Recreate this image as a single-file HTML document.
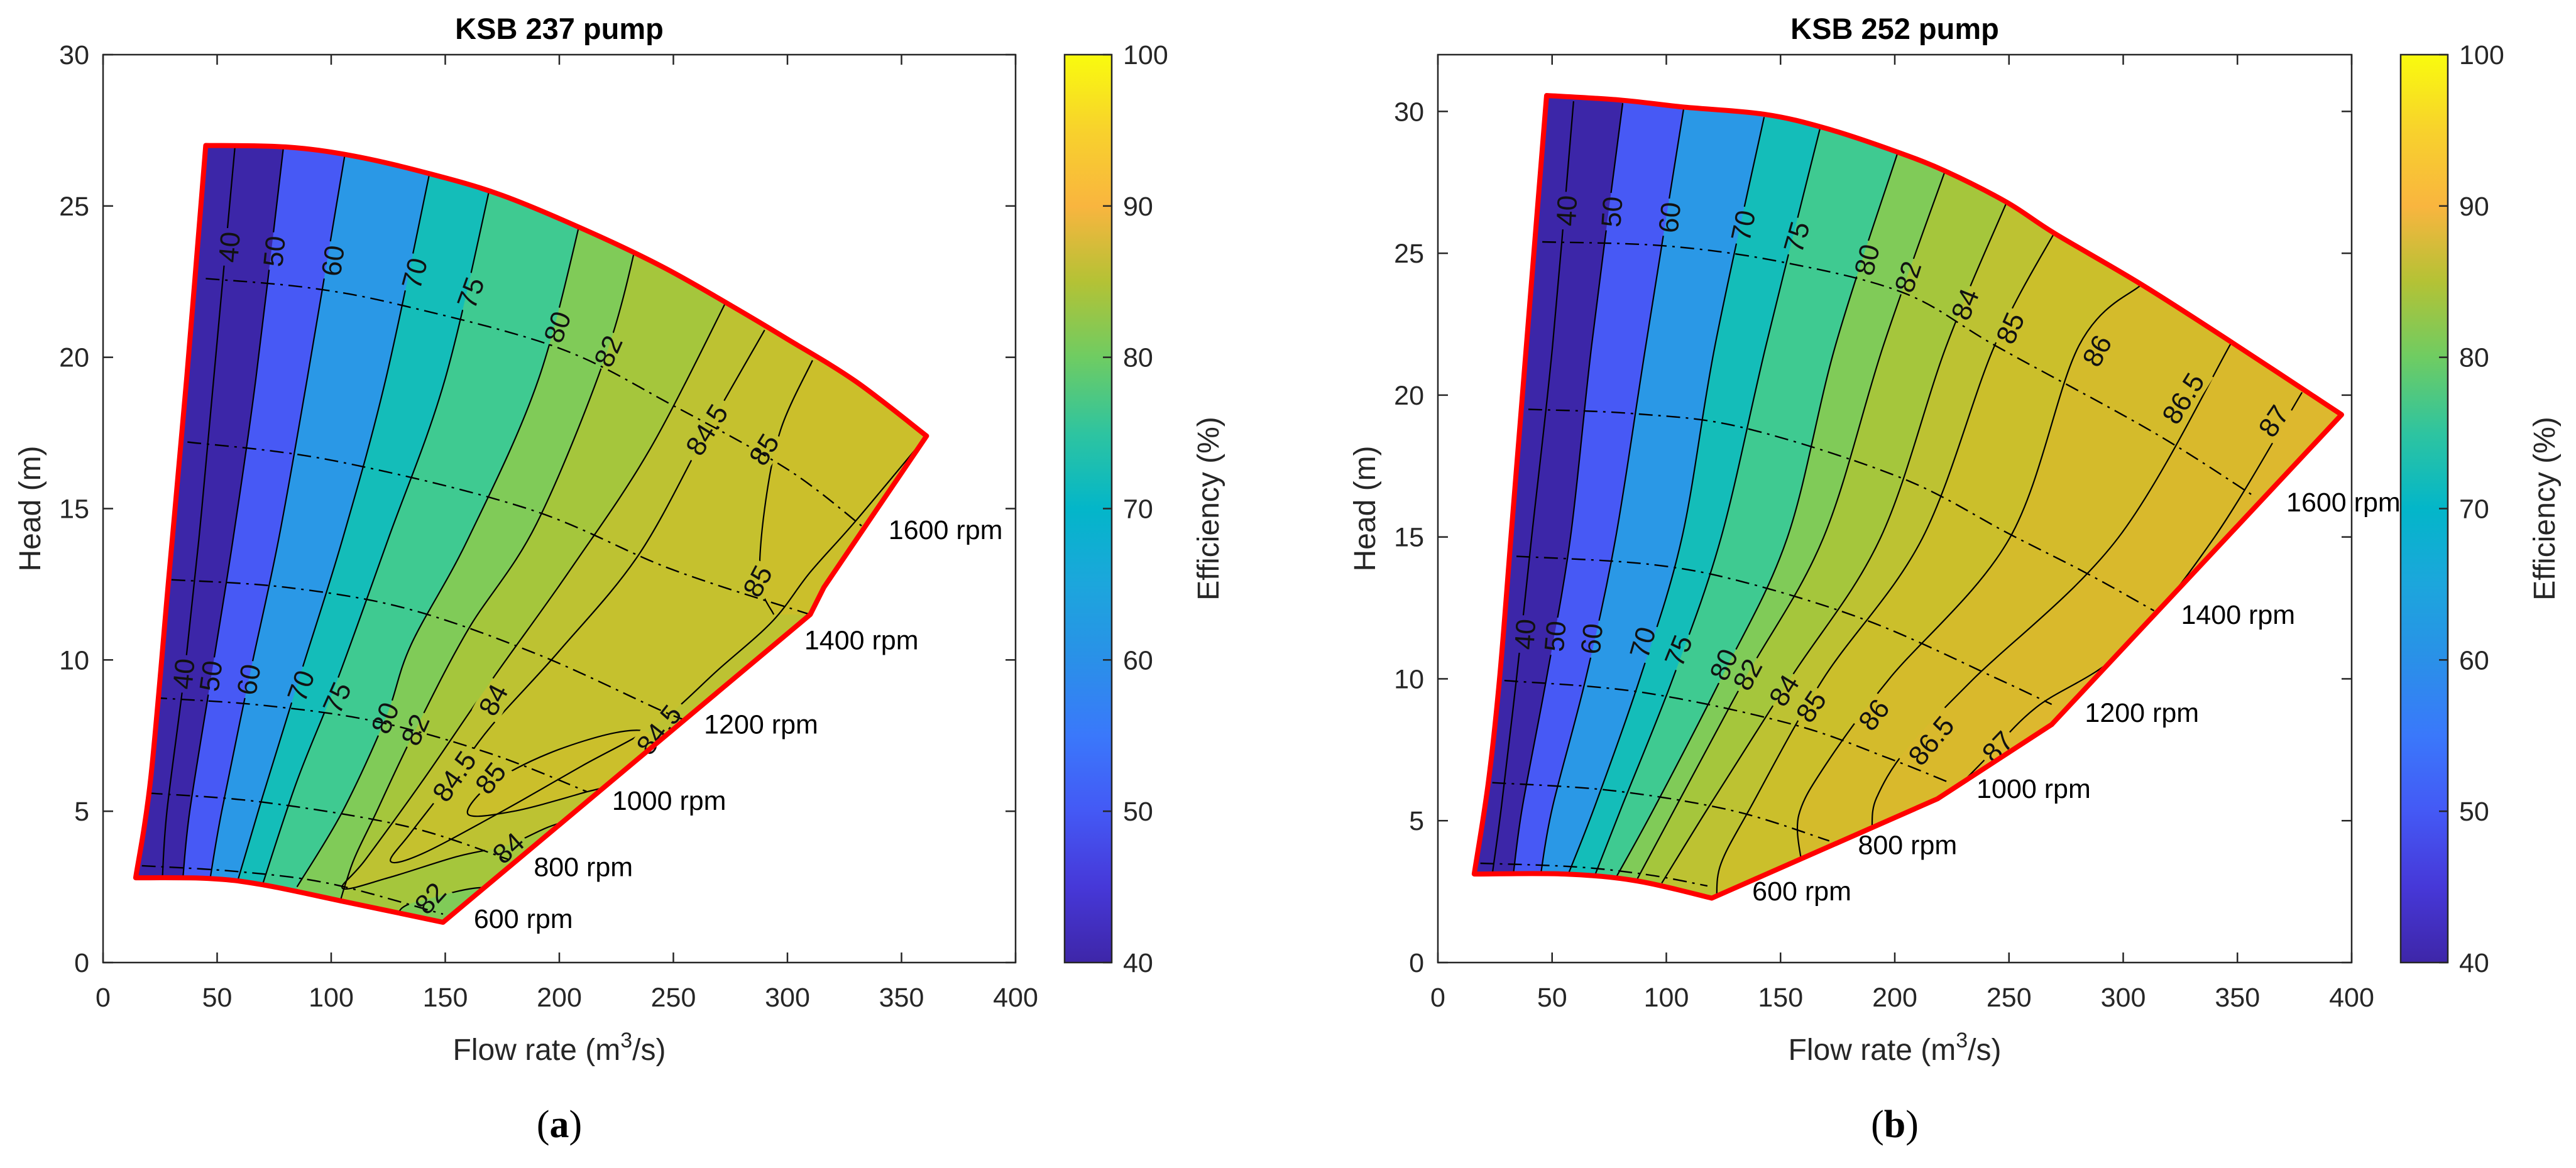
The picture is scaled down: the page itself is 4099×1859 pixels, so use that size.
<!DOCTYPE html>
<html><head><meta charset="utf-8"><title>KSB pump efficiency maps</title>
<style>html,body{margin:0;padding:0;background:#fff}svg{display:block}text{font-family:"Liberation Sans",Arial,sans-serif}</style>
</head><body>
<svg id="fig" xmlns="http://www.w3.org/2000/svg" width="4099" height="1859" viewBox="0 0 4099 1859">
<defs>
<linearGradient id="parula" x1="0" y1="1" x2="0" y2="0">
<stop offset="0" stop-color="#3e26a8"/><stop offset="0.083" stop-color="#4638d8"/><stop offset="0.167" stop-color="#4459f5"/><stop offset="0.25" stop-color="#3a78fb"/><stop offset="0.333" stop-color="#2a90e8"/><stop offset="0.417" stop-color="#1ca6dc"/><stop offset="0.5" stop-color="#03b6c9"/><stop offset="0.583" stop-color="#2ec4a0"/><stop offset="0.667" stop-color="#6fcc62"/><stop offset="0.75" stop-color="#b4c235"/><stop offset="0.833" stop-color="#f9b53f"/><stop offset="0.917" stop-color="#f8d22c"/><stop offset="1" stop-color="#f9fb0e"/>
</linearGradient>
</defs>
</svg>
<script>
// ---------- shared data ----------
const xTicks = [0,50,100,150,200,250,300,350,400];
const yTicks = [0,5,10,15,20,25,30];
const cbTicks = [40,50,60,70,80,90,100];
const bandLevels = [40,50,60,70,75,80,82,84,84.5,85,86,86.5,87];
const bandColors = ['#3c26a8','#4759f5','#2a98e6','#14bdb9','#3fca91','#80cb58','#a5c63c','#bdc232','#c5c12e','#cbbf2b','#d4bb2b','#d9b92c','#ddb82e'];

// ---------- KSB 237 (a) ----------
const topCurveA = [[45,27.0],[80,26.95],[110,26.65],[144,26.05],[175,25.35],[211.6,24.2],[245,23.0],[275.5,21.7],[300,20.6],[330,19.2],[361,17.4]];
const lowerEdgeA = [[316,12.4],[310,11.5],[149,1.33]];
const bottomCurveA = [[149,1.33],[106.6,2.0],[70,2.57],[46,2.78],[14.3,2.8]];
const leftEdgeA = [[14.3,2.8],[20.9,6.1],[28.8,12.7],[36.7,19.34],[45,27.0]];
const contourLevelsA = [40,50,60,70,75,80,82,84,84.5,85,85];
const contourTypesA = ['line','line','line','line','line','line','u','u','u','u','closed'];
const contourPtsA = [
 [[58,27.1],[48.5,19.3],[42,14],[35.4,9.4],[28,5],[26,2.8]],
 [[79,26.9],[67,19.3],[57,14],[47.3,9.4],[38,5],[35,2.8]],
 [[106,26.7],[89.5,19.3],[77,14],[64,9.4],[52,5],[47,2.8]],
 [[144,26.4],[124,19.3],[105,14],[86,9.4],[70,5.5],[59,2.7]],
 [[171,26.1],[150,19.3],[125,14],[103,9.4],[85,6],[70,2.6]],
 [[212,25.4],[191,19.3],[160,14],[135,10.5],[124,8.1],[105,5],[85,2.5]],
 [[236,24.5],[221,20.2],[190,14.5],[160,11],[137,7.7],[120,5.0],[108,3.0],[104,1.2],[126,1.0],[131,1.8],[145,2.15],[162,2.45],[178,2.5]],
 [[275.5,22.2],[240,17],[205,13],[171,9.4],[140,6.0],[115,3.4],[105,2.45],[125,2.8],[155,3.5],[178,3.9],[200,4.6],[230,5.0]],
 [[290,20.9],[265,17.6],[235,13.5],[200,10.3],[170,7.8],[154,6.15],[135,4.3],[126,3.35],[140,3.6],[175,5.0],[210,6.5],[243,7.9],[270,9.7],[293.7,11.3],[310,12.9],[330,14.6],[361,17.4]],
 [[311,19.9],[297,17.6],[290,15.0],[288,12.6],[294,11.5]],
 [[160,4.9],[170,5.9],[195,6.9],[225,7.6],[240,7.5],[235,6.2],[210,5.6],[180,5.0]]
];
const labelTextA = ['40','50','60','70','75','80','82','84.5','85','85','40','50','60','70','75','80','82','84','84.5','85','84','82','84.5'];
const labelPosA = [[55.4,23.64],[75.1,23.5],[100.8,23.19],[136.6,22.77],[161.2,22.13],[199.2,21.0],[221.5,20.2],[264.7,17.6],[289.8,16.95],[287,12.6],[35.4,9.54],[47.3,9.47],[63.9,9.35],[86.8,9.14],[102.6,8.75],[123.7,8.08],[136.9,7.69],[171.1,8.68],[154,6.15],[169.9,6.09],[177.7,3.78],[143.5,2.12],[243.7,7.69]];
const labelAngA = [-85,-84,-82,-75,-70,-70,-66,-58,-58,-62,-84,-82,-80,-70,-66,-68,-66,-62,-55,-52,-42,-48,-52];
const speedNames = ['1600 rpm','1400 rpm','1200 rpm','1000 rpm','800 rpm','600 rpm'];
const speedA = [
 [[45,22.6],[90,22.3],[132,21.7],[200,20.3],[250,18.4],[300,16.3],[333,14.4]],
 [[37,17.2],[100,16.6],[186,15.0],[249,13.0],[310,11.5]],
 [[30,12.65],[80,12.4],[133,11.7],[190,10.2],[244,8.35],[256,8.0]],
 [[22,8.75],[70,8.5],[120,7.96],[170,6.9],[212,5.65]],
 [[20,5.6],[70,5.3],[133,4.5],[178,3.4]],
 [[17,3.2],[60,3.0],[100,2.6],[149,1.6]]
];
const speedLabelA = [[344.3,14.3],[307.4,10.66],[263.4,7.88],[223.1,5.36],[188.8,3.17],[162.5,1.45]];

// ---------- KSB 252 (b) ----------
const topCurveB = [[47.6,30.56],[80,30.4],[106.7,30.16],[142.8,29.9],[170,29.4],[200,28.6],[222,27.9],[249,26.8],[270,25.7],[308,23.9],[347.7,21.85],[395.6,19.31]];
const lowerEdgeB = [[268.7,8.39],[218.7,5.77],[119.9,2.27]];
const bottomCurveB = [[119.9,2.27],[87,2.88],[55.4,3.12],[15.9,3.12]];
const leftEdgeB = [[15.9,3.12],[22,6.3],[27,10],[32,15],[37,20],[42,25],[47.6,30.56]];
const contourLevelsB = [40,50,60,70,75,80,82,84,85,86,86.5,87];
const contourTypesB = ['line','line','line','line','line','line','line','line','line','line','line','line'];
const contourPtsB = [
 [[59.4,30.36],[50.2,21.74],[41,14.96],[34.4,10],[27.8,5.49],[23.8,3.1]],
 [[80.9,30.29],[67.3,21.74],[58,14.96],[47.5,10],[37,5.49],[33,3.1]],
 [[107.6,30.1],[91,21.74],[77.8,14.96],[64.7,10],[50.2,5.49],[45,3.1]],
 [[142.8,29.8],[121.3,21.74],[106.8,14.96],[88.4,10],[68.6,5.49],[57,3.1]],
 [[167.3,29.4],[143.6,21.74],[123.9,14.96],[102.8,10],[80.5,5.49],[68.6,3.05]],
 [[201.1,28.5],[174,21.74],[152.9,14.96],[123.9,10],[95,5.49],[78,3.0]],
 [[222,27.9],[195,21.74],[168.7,14.96],[134.4,10],[104.2,5.49],[87,2.9]],
 [[249,26.8],[222.6,21.74],[193.7,14.96],[154.2,10],[118.6,5.49],[98,2.8]],
 [[270.4,25.8],[243.7,21.74],[212.1,14.96],[168.7,10],[137,5.49],[124,3.5],[122,2.3]],
 [[308,23.9],[280.6,21.74],[250.3,14.96],[197.6,10],[170,7],[158,5.2],[159,3.6]],
 [[347.7,21.9],[297.7,14.96],[234.5,10],[205,7.5],[192,5.8],[190,4.8]],
 [[378.3,20.1],[340,15],[300,11],[262,9],[240,7.2],[229,6.3]]
];
const labelTextB = ['40','50','60','70','75','80','82','84','85','86','86.5','87','40','50','60','70','75','80','82','84','85','86','86.5','87'];
const labelPosB = [[56.4,26.5],[76.2,26.46],[101.5,26.26],[133.7,25.97],[157.1,25.57],[187.9,24.77],[205.8,24.17],[230.8,23.2],[250.6,22.36],[288.6,21.56],[326.3,19.88],[365.9,19.08],[38.2,11.57],[51.4,11.5],[67.4,11.41],[89.7,11.28],[105.4,10.99],[125.2,10.5],[135.6,10.15],[151.6,9.59],[163.4,9.02],[190.9,8.73],[216,7.82],[245.1,7.6]];
const labelAngB = [-87,-86,-84,-78,-74,-76,-72,-68,-66,-62,-58,-56,-86,-85,-84,-74,-68,-66,-62,-58,-56,-52,-50,-46];
const speedB = [
 [[45.7,25.4],[99.6,25.26],[150,24.7],[204,23.6],[245,21.7],[313,18.7],[358,16.4]],
 [[39.6,19.5],[87,19.34],[134.4,18.84],[202.9,17.08],[250.3,15.1],[284.5,13.7],[313.5,12.4]],
 [[34.4,14.32],[92.3,14.04],[134.4,13.4],[189.7,12.0],[245,10.0],[268.7,9.1]],
 [[29.1,9.94],[89.7,9.52],[155.5,8.39],[197.6,7.19],[224,6.34]],
 [[23.8,6.34],[76.5,6.06],[129.2,5.35],[171.3,4.29]],
 [[18.6,3.5],[60.7,3.37],[92.3,3.09],[118,2.7]]
];
const speedLabelB = [[371.4,16.23],[325.3,12.27],[283.2,8.81],[235.8,6.13],[183.9,4.15],[137.6,2.52]];

const NS = 'http://www.w3.org/2000/svg';
const svg = document.getElementById('fig');
function mk(tag, attrs, parent){ const e=document.createElementNS(NS,tag); for(const k in attrs) e.setAttribute(k,attrs[k]); (parent||svg).appendChild(e); return e; }
function bandColor(level){ let c=bandColors[0]; for(let i=0;i<bandLevels.length;i++){ if(level>=bandLevels[i]) c=bandColors[i]; } return c; }

function smooth(P, closed, startMove){
  const n=P.length; let d=(startMove?'M':'L')+P[0][0].toFixed(1)+','+P[0][1].toFixed(1);
  const get=i=>{ if(closed) return P[(i+n)%n]; return P[Math.max(0,Math.min(n-1,i))]; };
  const segs = closed? n : n-1;
  for(let i=0;i<segs;i++){
    const p0=get(i-1),p1=get(i),p2=get(i+1),p3=get(i+2);
    const c1=[p1[0]+(p2[0]-p0[0])/6, p1[1]+(p2[1]-p0[1])/6];
    const c2=[p2[0]-(p3[0]-p1[0])/6, p2[1]-(p3[1]-p1[1])/6];
    d+=' C'+c1[0].toFixed(1)+','+c1[1].toFixed(1)+' '+c2[0].toFixed(1)+','+c2[1].toFixed(1)+' '+p2[0].toFixed(1)+','+p2[1].toFixed(1);
  }
  return d;
}

function drawPlot(cfg){
  const {id,left,right,top,bottom,ymax,title,letter,topCurve,lowerEdge,bottomCurve,leftEdge,levels,types,pts,labTxt,labPos,labAng,speeds,speedLab} = cfg;
  const sx = q => left + q/400*(right-left);
  const sy = h => bottom - h/ymax*(bottom-top);
  const px = arr => arr.map(p=>[sx(p[0]),sy(p[1])]);
  const lin = arr => arr.map(p=>'L'+sx(p[0]).toFixed(1)+','+sy(p[1]).toFixed(1)).join(' ');
  const bpath = smooth(px(topCurve),false,true)+' '+lin(lowerEdge)+' '+smooth(px(bottomCurve),false,false)+' '+smooth(px(leftEdge),false,false)+' Z';
  const g = mk('g',{});
  
  
  const defs = svg.querySelector('defs');
  const cp = mk('clipPath',{id:'clip-'+id},defs);
  mk('path',{d:bpath},cp);
  const mask = mk('mask',{id:'mask-'+id,maskUnits:'userSpaceOnUse',x:0,y:0,width:4099,height:1859},defs);
  mk('rect',{x:0,y:0,width:4099,height:1859,fill:'#fff'},mask);
  const t = mk('text',{x:(left+right)/2,y:62,'text-anchor':'middle','font-size':47,'font-weight':'bold',fill:'#000'},g);
  t.textContent = title;
  
  
  const fg = mk('g',{'clip-path':'url(#clip-'+id+')'},g);
  
  
  mk('rect',{x:left,y:top,width:right-left,height:bottom-top,fill:bandColors[0]},fg);
  levels.forEach((lv,i)=>{
    const p = pts[i];
    const last = p[p.length-1], first = p[0];
    let d;
    if(types[i]==='line'){ d = 'M'+sx(first[0]).toFixed(1)+','+sy(ymax+10).toFixed(1)+' '+smooth(px(p),false,false)+' '+lin([[last[0],-5],[600,-5],[600,ymax+10]])+' Z'; }
    else if(types[i]==='u'){ d = smooth(px(p),false,true)+' '+lin([[600,last[1]],[600,ymax+10],[first[0],ymax+10]])+' Z'; }
    else { d = smooth(px(p),true,true)+' Z'; }
    const f = mk('path',{d:d,fill:bandColor(lv+0.01)},fg);
    
    
  });
  const lg = mk('g',{'clip-path':'url(#clip-'+id+')'},g);
  const lg2 = mk('g',{mask:'url(#mask-'+id+')',fill:'none',stroke:'#000','stroke-width':2.2},lg);
  
  
  levels.forEach((lv,i)=>{
    const d = smooth(px(pts[i]), types[i]==='closed', true) + (types[i]==='closed'?' Z':'');
    const c = mk('path',{d:d},lg2);
    
    
  });
  const sg = mk('g',{fill:'none',stroke:'#000','stroke-width':2.4,'stroke-dasharray':'22 9 4 9'},lg);
  speeds.forEach((s,i)=>{
    const c = mk('path',{d:smooth(px(s),false,true)},sg);
    
    
  });
  labTxt.forEach((tx,i)=>{
    const x=sx(labPos[i][0]), y=sy(labPos[i][1]), a=labAng[i];
    const w = tx.length*24+12;
    mk('rect',{x:x-w/2,y:y-23,width:w,height:46,fill:'#000',transform:`rotate(${a} ${x} ${y})`},mask);
    const lt = mk('text',{x:x,y:y+15,'text-anchor':'middle','font-size':44,fill:'#111',transform:`rotate(${a} ${x} ${y})`},g);
    lt.textContent = tx;
    
    
  });
  const bd = mk('path',{d:bpath,fill:'none',stroke:'#ff0000','stroke-width':8,'stroke-linejoin':'round'},g);
  
  
  speedLab.forEach((p,i)=>{
    const r = mk('text',{x:sx(p[0]),y:sy(p[1])+15,'font-size':43,fill:'#000'},g);
    r.textContent = speedNames[i];
    
    
  });
  const ax = mk('rect',{x:left,y:top,width:right-left,height:bottom-top,fill:'none',stroke:'#262626','stroke-width':2.5},g);
  
  
  xTicks.forEach(v=>{
    const x=sx(v);
    mk('line',{x1:x,y1:bottom,x2:x,y2:bottom-16,stroke:'#262626','stroke-width':2.5},g);
    mk('line',{x1:x,y1:top,x2:x,y2:top+16,stroke:'#262626','stroke-width':2.5},g);
    const tl = mk('text',{x:x,y:bottom+70,'text-anchor':'middle','font-size':43,fill:'#262626'},g);
    tl.textContent = v;
    
    
  });
  yTicks.forEach(v=>{
    const y=sy(v);
    mk('line',{x1:left,y1:y,x2:left+16,y2:y,stroke:'#262626','stroke-width':2.5},g);
    mk('line',{x1:right,y1:y,x2:right-16,y2:y,stroke:'#262626','stroke-width':2.5},g);
    const tl = mk('text',{x:left-22,y:y+15,'text-anchor':'end','font-size':43,fill:'#262626'},g);
    tl.textContent = v;
    
    
  });
  const xl = mk('text',{x:(left+right)/2,y:1687,'text-anchor':'middle','font-size':48,fill:'#262626'},g);
  xl.innerHTML = 'Flow rate (m<tspan dy="-20" font-size="34">3</tspan><tspan dy="20">/s)</tspan>';
  
  
  const yl = mk('text',{x:0,y:0,'text-anchor':'middle','font-size':48,fill:'#262626',transform:`translate(${left-100},${(top+bottom)/2}) rotate(-90)`},g);
  yl.textContent = 'Head (m)';
  
  
  const cbx = right+78, cbw = 75;
  const cb = mk('rect',{x:cbx,y:top,width:cbw,height:bottom-top,fill:'url(#parula)',stroke:'#262626','stroke-width':2.5},g);
  
  
  cbTicks.forEach(v=>{
    const y = bottom - (v-40)/60*(bottom-top);
    mk('line',{x1:cbx+cbw,y1:y,x2:cbx+cbw-14,y2:y,stroke:'#262626','stroke-width':2.5},g);
    const tl = mk('text',{x:cbx+cbw+18,y:y+15,'font-size':43,fill:'#262626'},g);
    tl.textContent = v;
    
    
  });
  const cl = mk('text',{x:0,y:0,'text-anchor':'middle','font-size':48,fill:'#262626',transform:`translate(${cbx+cbw+170},${(top+bottom)/2}) rotate(-90)`},g);
  cl.textContent = 'Efficiency (%)';
  
  
  const lt = mk('text',{x:(left+right)/2,y:1810,'text-anchor':'middle','font-size':62,fill:'#000',style:'font-family:"Liberation Serif",serif'},g);
  lt.innerHTML = '(<tspan font-weight="bold">'+letter+'</tspan>)';
  
  
}

drawPlot({id:'a',left:164,right:1616,top:87,bottom:1532,ymax:30,title:'KSB 237 pump',letter:'a',topCurve:topCurveA,lowerEdge:lowerEdgeA,bottomCurve:bottomCurveA,leftEdge:leftEdgeA,levels:contourLevelsA,types:contourTypesA,pts:contourPtsA,labTxt:labelTextA,labPos:labelPosA,labAng:labelAngA,speeds:speedA,speedLab:speedLabelA});
drawPlot({id:'b',left:2288,right:3742,top:87,bottom:1532,ymax:32,title:'KSB 252 pump',letter:'b',topCurve:topCurveB,lowerEdge:lowerEdgeB,bottomCurve:bottomCurveB,leftEdge:leftEdgeB,levels:contourLevelsB,types:contourTypesB,pts:contourPtsB,labTxt:labelTextB,labPos:labelPosB,labAng:labelAngB,speeds:speedB,speedLab:speedLabelB});
</script>
</body></html>
